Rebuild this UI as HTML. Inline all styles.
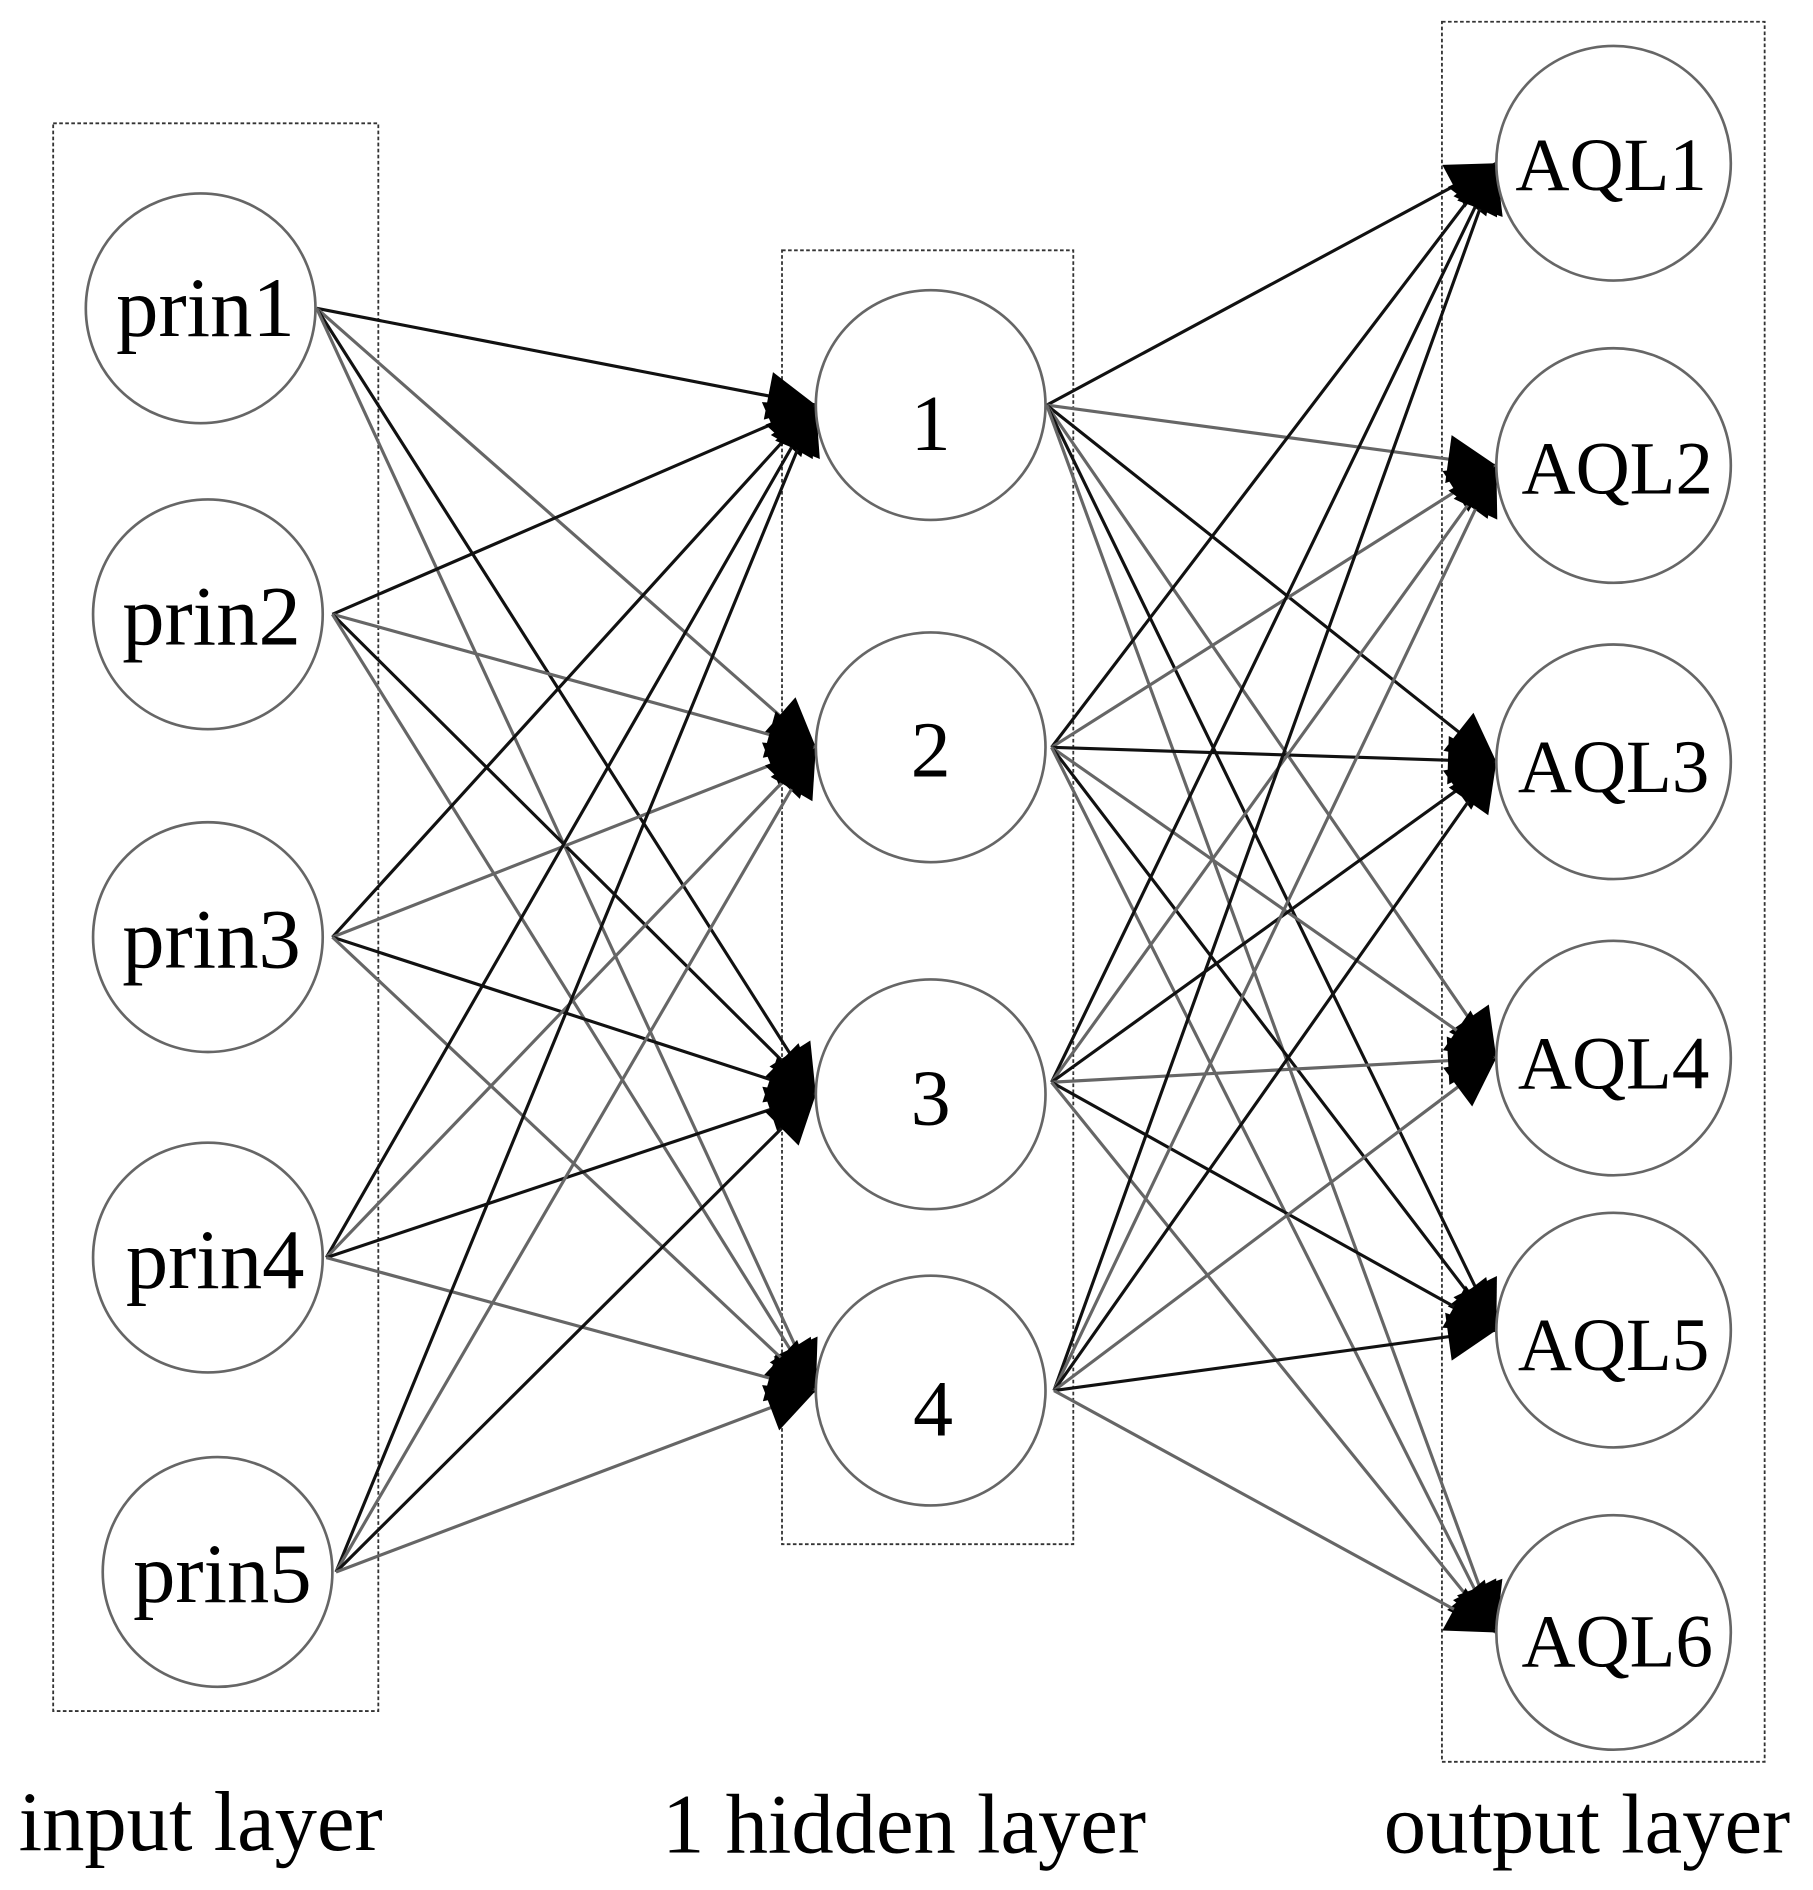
<!DOCTYPE html>
<html><head><style>html,body{margin:0;padding:0;background:#fff}svg{display:block}</style></head>
<body>
<svg width="1813" height="1890" viewBox="0 0 1500 1563" preserveAspectRatio="none" xmlns="http://www.w3.org/2000/svg">
<defs>
<marker id="b" viewBox="0 0 10 10" refX="10" refY="5" markerWidth="48" markerHeight="40" markerUnits="userSpaceOnUse" orient="auto">
<path d="M0,0 L10,5 L0,10 z" fill="#000"/></marker>
</defs>
<g fill="none" stroke="#333" stroke-dasharray="3,2" stroke-width="1.5">
<rect x="44" y="102" width="269" height="1313"/>
<rect x="647" y="207" width="241" height="1070"/>
<rect x="1193" y="18" width="267" height="1439"/>
</g>
<g id="edges" stroke-width="2.6" marker-end="url(#b)"></g>
<g fill="#fff" stroke="#666" stroke-width="2.2">
<circle cx="166" cy="255" r="95"/><circle cx="172" cy="508" r="95"/><circle cx="172" cy="775" r="95"/><circle cx="172" cy="1040" r="95"/><circle cx="180" cy="1300" r="95"/>
<circle cx="770" cy="335" r="95"/><circle cx="770" cy="618" r="95"/><circle cx="770" cy="905" r="95"/><circle cx="770" cy="1150" r="95"/>
<circle cx="1335" cy="135" r="97"/><circle cx="1335" cy="385" r="97"/><circle cx="1335" cy="630" r="97"/><circle cx="1335" cy="875" r="97"/><circle cx="1335" cy="1100" r="97"/><circle cx="1335" cy="1350" r="97"/>
</g>
<g font-family="Liberation Serif, serif" font-size="70" fill="#000" text-anchor="middle">
<text x="170" y="278">prin1</text><text x="175" y="533">prin2</text><text x="175" y="800">prin3</text><text x="178" y="1065">prin4</text><text x="184" y="1325">prin5</text>
<text x="770" y="372" font-size="66">1</text><text x="770" y="642" font-size="66">2</text><text x="770" y="930" font-size="66">3</text><text x="772" y="1187" font-size="66">4</text>
<text x="1333" y="157" font-size="62">AQL1</text><text x="1338" y="408" font-size="62">AQL2</text><text x="1335" y="655" font-size="62">AQL3</text><text x="1335" y="900" font-size="62">AQL4</text><text x="1335" y="1133" font-size="62">AQL5</text><text x="1338" y="1378" font-size="62">AQL6</text>
<text x="166" y="1530">input layer</text><text x="748" y="1532">1 hidden layer</text><text x="1313" y="1532">output layer</text>
</g>
<script>
var g=document.getElementById('edges');
var I=[[262,255],[275,508],[275,775],[270,1040],[278,1300]];
var H=[[675,335],[675,618],[675,905],[675,1150]];
var HS=[[866,335],[870,618],[870,895],[872,1150]];
var O=[[1238,135],[1238,385],[1238,630],[1238,875],[1238,1100],[1238,1350]];
var k=0;
function L(a,b){var l=document.createElementNS('http://www.w3.org/2000/svg','line');
l.setAttribute('x1',a[0]);l.setAttribute('y1',a[1]);l.setAttribute('x2',b[0]);l.setAttribute('y2',b[1]);
l.setAttribute('stroke',(k++%2)?'#666':'#111');g.appendChild(l);}
I.forEach(function(a){H.forEach(function(b){L(a,b);});});
HS.forEach(function(a){O.forEach(function(b){L(a,b);});});
</script>
</svg>
</body></html>
